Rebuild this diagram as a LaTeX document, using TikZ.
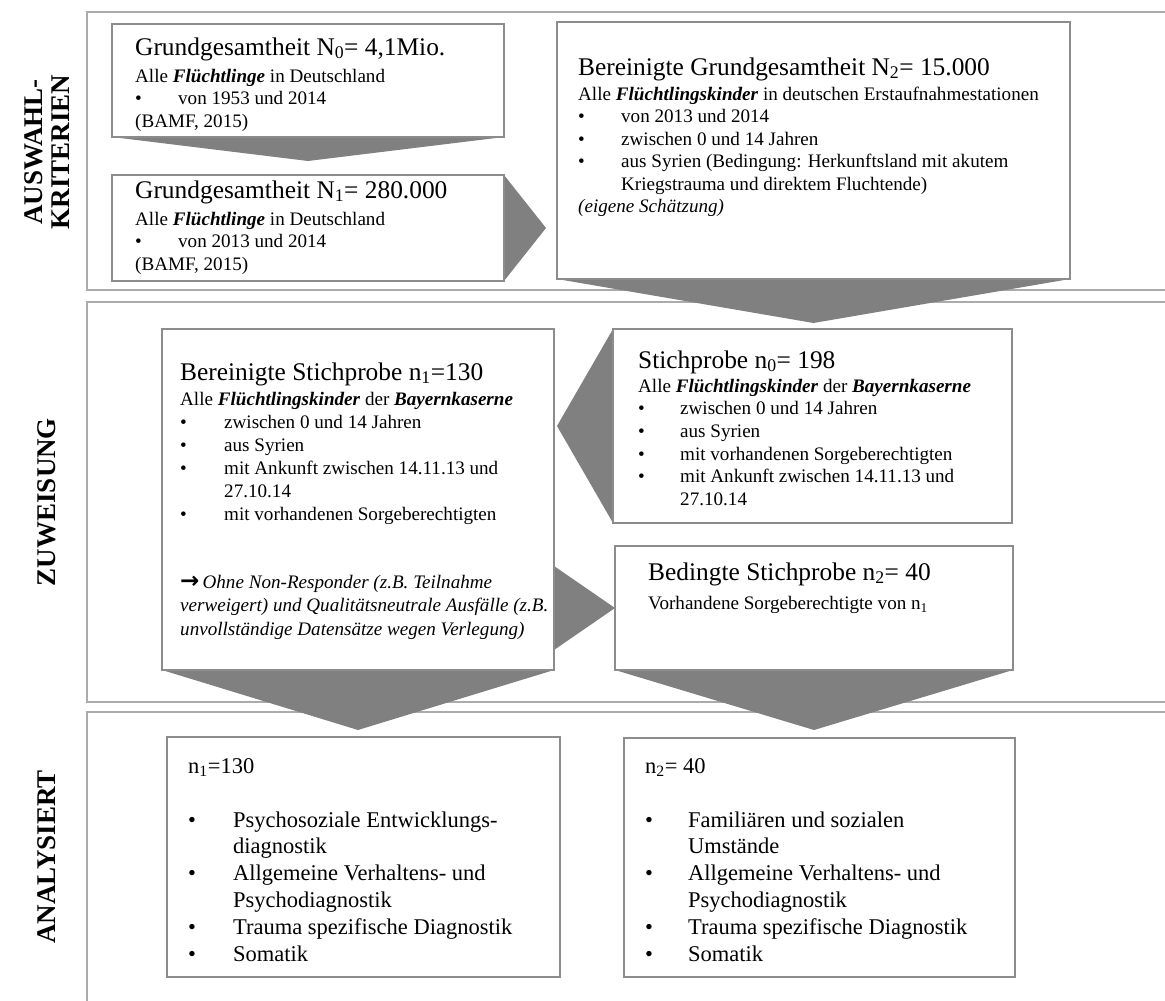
\documentclass[tikz,border=0pt]{standalone}
\usepackage{fontspec}
\setmainfont{Liberation Serif}
\newfontfamily\symbfont{DejaVu Sans}
\usetikzlibrary{calc}

\pgfdeclarelayer{frames}
\pgfdeclarelayer{arrows}
\pgfsetlayers{frames,arrows,main}

% type sizes
\newcommand\titlefont{\fontsize{25.4}{30}\selectfont}
\newcommand\bodyfont{\fontsize{19.1}{22.5}\selectfont}
\newcommand\bigbody{\fontsize{22.5}{27}\selectfont}
\newcommand\bi[1]{\textbf{\textit{#1}}}
% bullet line and continuation line with a hanging indent
\newcommand\bitem[2][43pt]{\hbox{\makebox[#1][l]{\textbullet}#2}}
\newcommand\cont[2][43pt]{\hbox{\hspace*{#1}#2}}
\newcommand\lskip[1]{\baselineskip=#1\relax}

\tikzset{
  frame/.style={draw=black!33, line width=2.6pt},
  box/.style={draw=black!45, line width=1.2pt, fill=white, anchor=north west,
              inner sep=0pt, outer sep=0pt},
  arrowhead/.style={fill=black!50},
  boxtext/.style={anchor=base west, inner sep=0pt},
  seclabel/.style={rotate=90, align=center, inner sep=0pt,
                   font=\fontsize{27}{26.5}\selectfont\bfseries},
}

\begin{document}
\begin{tikzpicture}[x=1pt,y=-1pt]
\useasboundingbox (0,0) rectangle (1165,1001);

% section frames (open to the right)
\begin{pgfonlayer}{frames}
  \draw[frame] (87,12) rectangle (1200,290);
  \draw[frame] (87,302) rectangle (1200,702);
  \draw[frame] (87,712) rectangle (1200,1030);
\end{pgfonlayer}

% section labels
\node[seclabel] (lblA) at (47,152) {AUSWAHL-\\KRITERIEN};
\node[seclabel] (lblB) at (47,502) {ZUWEISUNG};
\node[seclabel] (lblC) at (47,857) {ANALYSIERT};

% boxes
\node[box, minimum width=392pt, minimum height=113pt] (G0) at (112,24) {};
\node[box, minimum width=392pt, minimum height=106pt] (G1) at (112,175) {};
\node[box, minimum width=513pt, minimum height=257pt] (G2) at (557,22) {};
\node[box, minimum width=399pt, minimum height=194pt] (S0) at (613,329) {};
\node[box, minimum width=392pt, minimum height=341pt] (S1) at (162,329) {};
\node[box, minimum width=398pt, minimum height=124pt] (S2) at (615,546) {};
\node[box, minimum width=393pt, minimum height=240pt] (A1) at (167,737) {};
\node[box, minimum width=391pt, minimum height=239pt] (A2) at (624,738) {};

% block arrows
\begin{pgfonlayer}{arrows}
  \fill[arrowhead] (G0.south west) -- (G0.south east) -- ($(G0.south)+(0,24)$) -- cycle;
  \fill[arrowhead] (G1.north east) -- ($(G1.east)+(42,0)$) -- (G1.south east) -- cycle;
  \fill[arrowhead] (G2.south west) -- (G2.south east) -- ($(G2.south)+(0,44)$) -- cycle;
  \fill[arrowhead] (S0.north west) -- ($(S0.west)+(-56,0)$) -- (S0.south west) -- cycle;
  \fill[arrowhead] ($(S1.east |- S2.west)+(0,-42)$) -- (S2.west)
                   -- ($(S1.east |- S2.west)+(0,42)$) -- cycle;
  \fill[arrowhead] (S1.south west) -- (S1.south east) -- ($(S1.south)+(0,60)$) -- cycle;
  \fill[arrowhead] (S2.south west) -- (S2.south east) -- ($(S2.south)+(0,60)$) -- cycle;
\end{pgfonlayer}

% box texts
\node[boxtext] (G0text) at (135,55) {\vtop{\bodyfont\lineskiplimit=-100pt
  \hbox{\titlefont Grundgesamtheit N\textsubscript{0}= 4,1Mio.}
  \lskip{27pt}
  \hbox{Alle \bi{Flüchtlinge} in Deutschland}
  \lskip{22.5pt}
  \bitem{von 1953 und 2014}
  \hbox{(BAMF, 2015)}}};

\node[boxtext] (G1text) at (135,198) {\vtop{\bodyfont\lineskiplimit=-100pt
  \hbox{\titlefont Grundgesamtheit N\textsubscript{1}= 280.000}
  \lskip{27pt}
  \hbox{Alle \bi{Flüchtlinge} in Deutschland}
  \lskip{22.5pt}
  \bitem{von 2013 und 2014}
  \hbox{(BAMF, 2015)}}};

\node[boxtext] (G2text) at (578,75) {\vtop{\bodyfont\lineskiplimit=-100pt
  \hbox{\titlefont Bereinigte Grundgesamtheit N\textsubscript{2}= 15.000}
  \lskip{25pt}
  \hbox{Alle \bi{Flüchtlingskinder} in deutschen Erstaufnahmestationen}
  \lskip{22.5pt}
  \bitem{von 2013 und 2014}
  \bitem{zwischen 0 und 14 Jahren}
  \bitem{aus Syrien (Bedingung: Herkunftsland mit akutem}
  \cont{Kriegstrauma und direktem Fluchtende)}
  \hbox{\itshape (eigene Schätzung)}}};

\node[boxtext] (S0text) at (638,368) {\vtop{\bodyfont\lineskiplimit=-100pt
  \hbox{\titlefont Stichprobe n\textsubscript{0}= 198}
  \lskip{24pt}
  \hbox{Alle \bi{Flüchtlingskinder} der \bi{Bayernkaserne}}
  \lskip{22.7pt}
  \bitem[42pt]{zwischen 0 und 14 Jahren}
  \bitem[42pt]{aus Syrien}
  \bitem[42pt]{mit vorhandenen Sorgeberechtigten}
  \bitem[42pt]{mit Ankunft zwischen 14.11.13 und}
  \cont[42pt]{27.10.14}}};

\node[boxtext] (S1text) at (180,380) {\vtop{\bodyfont\lineskiplimit=-100pt
  \hbox{\titlefont Bereinigte Stichprobe n\textsubscript{1}=130}
  \lskip{25pt}
  \hbox{Alle \bi{Flüchtlingskinder} der \bi{Bayernkaserne}}
  \lskip{23pt}
  \bitem[44pt]{zwischen 0 und 14 Jahren}
  \bitem[44pt]{aus Syrien}
  \bitem[44pt]{mit Ankunft zwischen 14.11.13 und}
  \cont[44pt]{27.10.14}
  \bitem[44pt]{mit vorhandenen Sorgeberechtigten}
  \lskip{68pt}
  \hbox{{\symbfont\bfseries\fontsize{23}{20}\selectfont →}\,\itshape Ohne Non-Responder (z.B. Teilnahme}
  \lskip{23.5pt}
  \hbox{\itshape verweigert) und Qualitätsneutrale Ausfälle (z.B.}
  \hbox{\itshape unvollständige Datensätze wegen Verlegung)}}};

\node[boxtext] (S2text) at (648,580) {\vtop{\bodyfont\lineskiplimit=-100pt
  \hbox{\titlefont Bedingte Stichprobe n\textsubscript{2}= 40}
  \lskip{29pt}
  \hbox{Vorhandene Sorgeberechtigte von n\textsubscript{1}}}};

\node[boxtext] (A1text) at (188,773) {\vtop{\bigbody\lineskiplimit=-100pt
  \hbox{n\textsubscript{1}=130}
  \lskip{54pt}
  \bitem[45pt]{Psychosoziale Entwicklungs-}
  \lskip{26.8pt}
  \cont[45pt]{diagnostik}
  \bitem[45pt]{Allgemeine Verhaltens- und}
  \cont[45pt]{Psychodiagnostik}
  \bitem[45pt]{Trauma spezifische Diagnostik}
  \bitem[45pt]{Somatik}}};

\node[boxtext] (A2text) at (645,773) {\vtop{\bigbody\lineskiplimit=-100pt
  \hbox{n\textsubscript{2}= 40}
  \lskip{54pt}
  \bitem[43pt]{Familiären und sozialen}
  \lskip{26.8pt}
  \cont[43pt]{Umstände}
  \bitem[43pt]{Allgemeine Verhaltens- und}
  \cont[43pt]{Psychodiagnostik}
  \bitem[43pt]{Trauma spezifische Diagnostik}
  \bitem[43pt]{Somatik}}};

\end{tikzpicture}
\end{document}
